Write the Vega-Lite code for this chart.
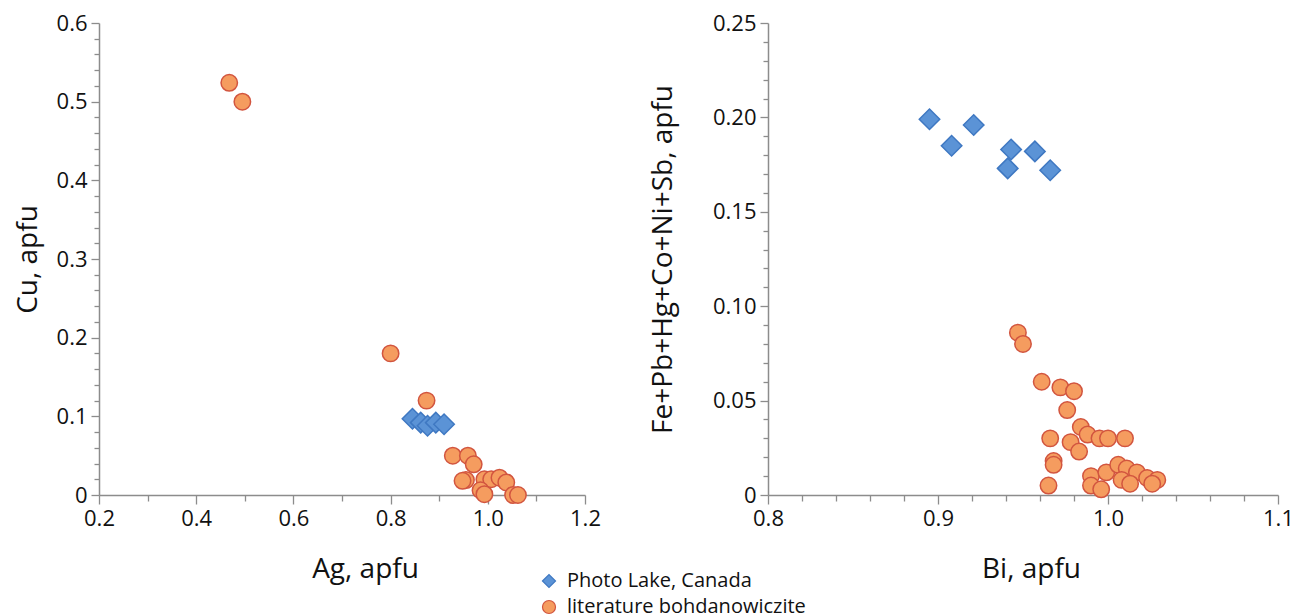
{
  "$schema": "https://vega.github.io/schema/vega-lite/v6.json",
  "background": "white",
  "padding": {"left": 14, "top": 12, "right": 0, "bottom": 0},
  "config": {
    "view": {"stroke": null},
    "font": "Open Sans",
    "axis": {
      "grid": false,
      "domainColor": "#8c8c8c",
      "domainWidth": 1.5,
      "tickColor": "#8c8c8c",
      "tickWidth": 1.3,
      "labelColor": "#111111",
      "labelFont": "Open Sans",
      "labelFontSize": 22,
      "titleFont": "Open Sans",
      "titleFontSize": 28,
      "titleFontWeight": "normal",
      "titleColor": "#111111",
      "labelOverlap": false,
      "labelFlush": false
    },
    "legend": {"labelFont": "Open Sans", "labelFontSize": 20, "labelColor": "#111111", "labelLimit": 0}
  },
  "datasets": {
    "left": [
      {"series": "literature bohdanowiczite", "ag": 0.468, "cu": 0.524},
      {"series": "literature bohdanowiczite", "ag": 0.495, "cu": 0.500},
      {"series": "literature bohdanowiczite", "ag": 0.800, "cu": 0.180},
      {"series": "literature bohdanowiczite", "ag": 0.874, "cu": 0.120},
      {"series": "literature bohdanowiczite", "ag": 0.928, "cu": 0.050},
      {"series": "literature bohdanowiczite", "ag": 0.959, "cu": 0.050},
      {"series": "literature bohdanowiczite", "ag": 0.971, "cu": 0.039},
      {"series": "literature bohdanowiczite", "ag": 0.955, "cu": 0.019},
      {"series": "literature bohdanowiczite", "ag": 0.948, "cu": 0.018},
      {"series": "literature bohdanowiczite", "ag": 0.993, "cu": 0.020},
      {"series": "literature bohdanowiczite", "ag": 1.007, "cu": 0.020},
      {"series": "literature bohdanowiczite", "ag": 1.024, "cu": 0.022},
      {"series": "literature bohdanowiczite", "ag": 1.038, "cu": 0.016},
      {"series": "literature bohdanowiczite", "ag": 0.985, "cu": 0.006},
      {"series": "literature bohdanowiczite", "ag": 0.993, "cu": 0.001},
      {"series": "literature bohdanowiczite", "ag": 1.052, "cu": 0.000},
      {"series": "literature bohdanowiczite", "ag": 1.062, "cu": 0.000},
      {"series": "Photo Lake, Canada", "ag": 0.845, "cu": 0.097},
      {"series": "Photo Lake, Canada", "ag": 0.862, "cu": 0.092},
      {"series": "Photo Lake, Canada", "ag": 0.876, "cu": 0.088},
      {"series": "Photo Lake, Canada", "ag": 0.893, "cu": 0.092},
      {"series": "Photo Lake, Canada", "ag": 0.910, "cu": 0.090}
    ],
    "right": [
      {"series": "literature bohdanowiczite", "bi": 0.947, "sum": 0.086},
      {"series": "literature bohdanowiczite", "bi": 0.950, "sum": 0.080},
      {"series": "literature bohdanowiczite", "bi": 0.961, "sum": 0.060},
      {"series": "literature bohdanowiczite", "bi": 0.972, "sum": 0.057},
      {"series": "literature bohdanowiczite", "bi": 0.980, "sum": 0.055},
      {"series": "literature bohdanowiczite", "bi": 0.976, "sum": 0.045},
      {"series": "literature bohdanowiczite", "bi": 0.984, "sum": 0.036},
      {"series": "literature bohdanowiczite", "bi": 0.988, "sum": 0.032},
      {"series": "literature bohdanowiczite", "bi": 0.995, "sum": 0.030},
      {"series": "literature bohdanowiczite", "bi": 1.000, "sum": 0.030},
      {"series": "literature bohdanowiczite", "bi": 1.010, "sum": 0.030},
      {"series": "literature bohdanowiczite", "bi": 0.966, "sum": 0.030},
      {"series": "literature bohdanowiczite", "bi": 0.978, "sum": 0.028},
      {"series": "literature bohdanowiczite", "bi": 0.983, "sum": 0.023},
      {"series": "literature bohdanowiczite", "bi": 0.968, "sum": 0.018},
      {"series": "literature bohdanowiczite", "bi": 0.968, "sum": 0.016},
      {"series": "literature bohdanowiczite", "bi": 0.965, "sum": 0.005},
      {"series": "literature bohdanowiczite", "bi": 0.990, "sum": 0.010},
      {"series": "literature bohdanowiczite", "bi": 0.990, "sum": 0.005},
      {"series": "literature bohdanowiczite", "bi": 0.996, "sum": 0.003},
      {"series": "literature bohdanowiczite", "bi": 0.999, "sum": 0.012},
      {"series": "literature bohdanowiczite", "bi": 1.006, "sum": 0.016},
      {"series": "literature bohdanowiczite", "bi": 1.011, "sum": 0.014},
      {"series": "literature bohdanowiczite", "bi": 1.008, "sum": 0.008},
      {"series": "literature bohdanowiczite", "bi": 1.017, "sum": 0.012},
      {"series": "literature bohdanowiczite", "bi": 1.023, "sum": 0.009},
      {"series": "literature bohdanowiczite", "bi": 1.029, "sum": 0.008},
      {"series": "literature bohdanowiczite", "bi": 1.026, "sum": 0.006},
      {"series": "literature bohdanowiczite", "bi": 1.013, "sum": 0.006},
      {"series": "Photo Lake, Canada", "bi": 0.895, "sum": 0.199},
      {"series": "Photo Lake, Canada", "bi": 0.908, "sum": 0.185},
      {"series": "Photo Lake, Canada", "bi": 0.921, "sum": 0.196},
      {"series": "Photo Lake, Canada", "bi": 0.943, "sum": 0.183},
      {"series": "Photo Lake, Canada", "bi": 0.941, "sum": 0.173},
      {"series": "Photo Lake, Canada", "bi": 0.957, "sum": 0.182},
      {"series": "Photo Lake, Canada", "bi": 0.966, "sum": 0.172}
    ]
  },
  "hconcat": [
    {
      "width": 486,
      "height": 472,
      "data": {"name": "left"},
      "encoding": {
        "x": {
          "field": "ag", "type": "quantitative",
          "scale": {"domain": [0.2, 1.2], "nice": false, "zero": false},
          "axis": {
            "title": "Ag, apfu",
            "values": [0.2, 0.3, 0.4, 0.5, 0.6, 0.7, 0.8, 0.9, 1.0, 1.1, 1.2],
            "labelExpr": "round(datum.value*10)%2==0 ? format(datum.value,'.1f') : ''",
            "tickSize": {"condition": {"test": "round(datum.value*10)%2==0", "value": 9}, "value": 6},
            "labelPadding": 4,
            "titlePadding": 26,
            "titleX": 266
          }
        },
        "y": {
          "field": "cu", "type": "quantitative",
          "scale": {"domain": [0, 0.6], "nice": false, "zero": false},
          "axis": {
            "title": "Cu, apfu",
            "values": [0, 0.02, 0.04, 0.06, 0.08, 0.1, 0.12, 0.14, 0.16, 0.18, 0.2, 0.22, 0.24, 0.26, 0.28, 0.3, 0.32, 0.34, 0.36, 0.38, 0.4, 0.42, 0.44, 0.46, 0.48, 0.5, 0.52, 0.54, 0.56, 0.58, 0.6],
            "labelExpr": "round(datum.value*100)%10==0 ? (datum.value==0 ? '0' : format(datum.value,'.1f')) : ''",
            "tickSize": {"condition": {"test": "round(datum.value*100)%10==0", "value": 8}, "value": 5},
            "labelPadding": 4,
            "titlePadding": 14
          }
        },
        "shape": {
          "field": "series", "type": "nominal",
          "scale": {"domain": ["Photo Lake, Canada", "literature bohdanowiczite"], "range": ["diamond", "circle"]},
          "legend": {
            "title": null,
            "orient": "none",
            "legendX": 440,
            "legendY": 548,
            "symbolSize": 170,
            "symbolStrokeWidth": 1.2,
            "rowPadding": 6,
            "labelOffset": 8
          }
        },
        "fill": {
          "field": "series", "type": "nominal",
          "scale": {"domain": ["Photo Lake, Canada", "literature bohdanowiczite"], "range": ["#5b93d6", "#f59c5f"]}
        },
        "stroke": {
          "field": "series", "type": "nominal",
          "scale": {"domain": ["Photo Lake, Canada", "literature bohdanowiczite"], "range": ["#3f78c2", "#d2553f"]}
        }
      },
      "layer": [
        {
          "transform": [{"filter": "datum.series == 'Photo Lake, Canada'"}],
          "mark": {"type": "point", "filled": true, "opacity": 1, "strokeWidth": 1.5, "size": 420}
        },
        {
          "transform": [{"filter": "datum.series == 'literature bohdanowiczite'"}],
          "mark": {"type": "point", "filled": true, "opacity": 1, "strokeWidth": 1.5, "size": 270}
        }
      ]
    },
    {
      "width": 510,
      "height": 472,
      "data": {"name": "right"},
      "encoding": {
        "x": {
          "field": "bi", "type": "quantitative",
          "scale": {"domain": [0.8, 1.1], "nice": false, "zero": false},
          "axis": {
            "title": "Bi, apfu",
            "values": [0.8, 0.82, 0.84, 0.86, 0.88, 0.9, 0.92, 0.94, 0.96, 0.98, 1.0, 1.02, 1.04, 1.06, 1.08, 1.1],
            "labelExpr": "round(datum.value*100)%10==0 ? format(datum.value,'.1f') : ''",
            "tickSize": {"condition": {"test": "round(datum.value*100)%10==0", "value": 9}, "value": 6},
            "labelPadding": 4,
            "titlePadding": 26,
            "titleX": 263
          }
        },
        "y": {
          "field": "sum", "type": "quantitative",
          "scale": {"domain": [0, 0.25], "nice": false, "zero": false},
          "axis": {
            "title": "Fe+Pb+Hg+Co+Ni+Sb, apfu",
            "values": [0, 0.01, 0.02, 0.03, 0.04, 0.05, 0.06, 0.07, 0.08, 0.09, 0.1, 0.11, 0.12, 0.13, 0.14, 0.15, 0.16, 0.17, 0.18, 0.19, 0.2, 0.21, 0.22, 0.23, 0.24, 0.25],
            "labelExpr": "round(datum.value*100)%5==0 ? (datum.value==0 ? '0' : format(datum.value,'.2f')) : ''",
            "tickSize": {"condition": {"test": "round(datum.value*100)%5==0", "value": 8}, "value": 5},
            "labelPadding": 4,
            "titlePadding": 35
          }
        },
        "shape": {
          "field": "series", "type": "nominal",
          "scale": {"domain": ["Photo Lake, Canada", "literature bohdanowiczite"], "range": ["diamond", "circle"]}
        },
        "fill": {
          "field": "series", "type": "nominal",
          "scale": {"domain": ["Photo Lake, Canada", "literature bohdanowiczite"], "range": ["#5b93d6", "#f59c5f"]}
        },
        "stroke": {
          "field": "series", "type": "nominal",
          "scale": {"domain": ["Photo Lake, Canada", "literature bohdanowiczite"], "range": ["#3f78c2", "#d2553f"]}
        }
      },
      "layer": [
        {
          "transform": [{"filter": "datum.series == 'Photo Lake, Canada'"}],
          "mark": {"type": "point", "filled": true, "opacity": 1, "strokeWidth": 1.5, "size": 420}
        },
        {
          "transform": [{"filter": "datum.series == 'literature bohdanowiczite'"}],
          "mark": {"type": "point", "filled": true, "opacity": 1, "strokeWidth": 1.5, "size": 270}
        }
      ]
    }
  ],
  "spacing": 48
}
